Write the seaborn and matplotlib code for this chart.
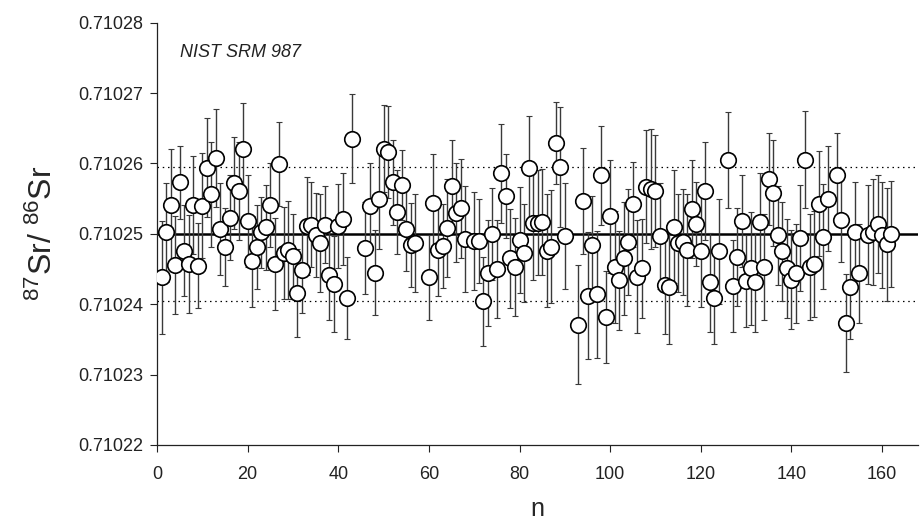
import matplotlib
matplotlib.use('Agg')
import matplotlib.pyplot as plt
import seaborn as sns
import numpy as np

# measurement index
n_idx = [
    1, 2, 3, 4, 5, 6, 7, 8, 9, 10, 11, 12, 13, 14, 15, 16, 17, 18, 19, 20,
    21, 22, 23, 24, 25, 26, 27, 28, 29, 30, 31, 32, 33, 34, 35, 36, 37, 38, 39, 40,
    41, 42, 43, 46, 47, 48, 49, 50, 51, 52, 53, 54, 55, 56, 57, 60,
    61, 62, 63, 64, 65, 66, 67, 68, 70, 71, 72, 73, 74, 75, 76, 77, 78, 79, 80,
    81, 82, 83, 84, 85, 86, 87, 88, 89, 90, 93, 94, 95, 96, 97, 98, 99, 100,
    101, 102, 103, 104, 105, 106, 107, 108, 109, 110, 111, 112, 113, 114, 115, 116, 117, 118, 119, 120,
    121, 122, 123, 124, 126, 127, 128, 129, 130, 131, 132, 133, 134, 135, 136, 137, 138, 139, 140,
    141, 142, 143, 144, 145, 146, 147, 148, 150, 151, 152, 153, 154, 155, 157, 158, 159, 160,
    161, 162,
]

# 87Sr/86Sr measured
sr_ratio = [
    0.7102438, 0.7102502, 0.7102541, 0.7102456, 0.7102573, 0.7102476, 0.7102457, 0.7102541, 0.7102455, 0.7102540,
    0.7102594, 0.7102556, 0.7102608, 0.7102507, 0.7102481, 0.7102523, 0.7102572, 0.7102561, 0.7102621, 0.7102518,
    0.7102461, 0.7102481, 0.7102502, 0.7102509, 0.7102541, 0.7102457, 0.7102599, 0.7102473, 0.7102477, 0.7102468,
    0.7102416, 0.7102448, 0.7102511, 0.7102513, 0.7102498, 0.7102487, 0.7102513, 0.7102442, 0.7102429, 0.7102511,
    0.7102521, 0.7102409, 0.7102635, 0.7102480, 0.7102540, 0.7102445, 0.7102549, 0.7102621, 0.7102616, 0.7102573,
    0.7102531, 0.7102569, 0.7102507, 0.7102484, 0.7102487, 0.7102438,
    0.7102544, 0.7102477, 0.7102483, 0.7102508, 0.7102568, 0.7102530, 0.7102536, 0.7102493, 0.7102490, 0.7102490,
    0.7102404, 0.7102444, 0.7102500, 0.7102450, 0.7102586, 0.7102554, 0.7102465, 0.7102453, 0.7102491,
    0.7102473, 0.7102593, 0.7102515, 0.7102516, 0.7102517, 0.7102476, 0.7102482, 0.7102629, 0.7102595, 0.7102497,
    0.7102371, 0.7102547, 0.7102412, 0.7102484, 0.7102414, 0.7102583, 0.7102382, 0.7102525,
    0.7102453, 0.7102434, 0.7102465, 0.7102488, 0.7102542, 0.7102439, 0.7102451, 0.7102567, 0.7102564, 0.7102561,
    0.7102497, 0.7102427, 0.7102424, 0.7102510, 0.7102487, 0.7102488, 0.7102477, 0.7102535, 0.7102514, 0.7102476,
    0.7102561, 0.7102431, 0.7102409, 0.7102475, 0.7102605, 0.7102426, 0.7102467, 0.7102518, 0.7102433, 0.7102451,
    0.7102431, 0.7102517, 0.7102453, 0.7102578, 0.7102558, 0.7102498, 0.7102475, 0.7102451, 0.7102435,
    0.7102444, 0.7102494, 0.7102605, 0.7102453, 0.7102457, 0.7102543, 0.7102496, 0.7102550, 0.7102583, 0.7102520,
    0.7102373, 0.7102425, 0.7102503, 0.7102444, 0.7102499, 0.7102503, 0.7102514, 0.7102498,
    0.7102485, 0.7102500,
]

# 2 s.e. of each run
sr_err = [
    8.0e-6, 7.0e-6, 8.0e-6, 7.0e-6, 5.2e-6, 6.5e-6, 7.0e-6, 7.0e-6, 6.0e-6, 7.5e-6,
    7.0e-6, 7.5e-6, 7.0e-6, 6.5e-6, 5.5e-6, 6.0e-6, 6.5e-6, 7.0e-6, 6.5e-6, 6.5e-6,
    6.5e-6, 6.0e-6, 5.0e-6, 6.0e-6, 6.0e-6, 6.5e-6, 6.0e-6, 6.5e-6, 7.0e-6, 6.0e-6,
    6.2e-6, 6.0e-6, 7.0e-6, 6.0e-6, 6.0e-6, 7.0e-6, 5.5e-6, 6.5e-6, 6.8e-6, 6.0e-6,
    6.5e-6, 5.8e-6, 6.3e-6, 6.5e-6, 6.0e-6, 6.0e-6, 7.0e-6, 6.2e-6, 6.5e-6, 6.0e-6,
    6.0e-6, 5.0e-6, 6.0e-6, 6.0e-6, 7.0e-6, 6.0e-6,
    7.0e-6, 6.5e-6, 6.0e-6, 7.0e-6, 6.5e-6, 7.0e-6, 7.0e-6, 7.5e-6, 7.0e-6, 6.0e-6,
    6.3e-6, 7.5e-6, 6.5e-6, 7.0e-6, 7.0e-6, 6.0e-6, 7.0e-6, 7.0e-6, 7.5e-6,
    7.0e-6, 7.5e-6, 8.0e-6, 7.5e-6, 7.5e-6, 8.0e-6, 8.0e-6, 5.8e-6, 8.5e-6, 7.5e-6,
    8.5e-6, 7.5e-6, 9.0e-6, 7.0e-6, 9.0e-6, 7.0e-6, 6.5e-6, 8.0e-6,
    8.0e-6, 7.0e-6, 8.0e-6, 7.5e-6, 6.0e-6, 8.0e-6, 7.0e-6, 8.0e-6, 8.5e-6, 8.0e-6,
    7.5e-6, 7.0e-6, 8.0e-6, 8.0e-6, 7.0e-6, 7.5e-6, 8.0e-6, 7.0e-6, 6.0e-6, 8.0e-6,
    7.0e-6, 7.0e-6, 6.5e-6, 7.5e-6, 6.8e-6, 6.5e-6, 7.0e-6, 6.5e-6, 6.5e-6, 8.0e-6,
    7.0e-6, 7.0e-6, 7.5e-6, 6.5e-6, 7.5e-6, 7.0e-6, 7.0e-6, 7.0e-6, 7.0e-6,
    7.0e-6, 7.5e-6, 6.9e-6, 7.5e-6, 7.5e-6, 7.5e-6, 7.5e-6, 7.5e-6, 6.0e-6, 6.0e-6,
    7.0e-6, 7.5e-6, 7.0e-6, 7.0e-6, 7.0e-6, 7.5e-6, 7.0e-6, 7.5e-6,
    8.0e-6, 7.5e-6,
]

MEAN = 0.7102500
UPPER_2SD = 0.7102595
LOWER_2SD = 0.7102405

y_ticks = [0.71022, 0.71023, 0.71024, 0.71025, 0.71026, 0.71027, 0.71028]
x_ticks = [0, 20, 40, 60, 80, 100, 120, 140, 160]

sns.set_style('ticks')
plt.rcParams['font.family'] = ['Liberation Sans', 'DejaVu Sans']
plt.rcParams['mathtext.default'] = 'regular'

fig, ax = plt.subplots(figsize=(9.22, 5.27), dpi=100)
fig.subplots_adjust(left=0.1703, right=0.996, bottom=0.1556, top=0.957)

ax.axhline(MEAN, color='black', linewidth=1.8, zorder=1)
ax.axhline(UPPER_2SD, color='black', linewidth=0.9, linestyle=(0, (1.2, 3)), zorder=1)
ax.axhline(LOWER_2SD, color='black', linewidth=0.9, linestyle=(0, (1.2, 3)), zorder=1)

ax.errorbar(n_idx, sr_ratio, yerr=sr_err, fmt='none', ecolor='#3a3a3a',
            elinewidth=1.0, capsize=2.5, capthick=0.8, zorder=2)
sns.scatterplot(x=n_idx, y=sr_ratio, ax=ax, marker='o', s=125, color='white',
                edgecolor='black', linewidth=1.2, zorder=3, legend=False)

ax.set_xlim(0, 168)
ax.set_ylim(0.71022, 0.71028)
ax.set_xticks(x_ticks)
ax.set_yticks(y_ticks)
ax.set_yticklabels([f'{v:.5f}' for v in y_ticks])
ax.tick_params(axis='both', direction='out', length=5, width=0.8,
               labelsize=13, colors='#222222')
ax.tick_params(axis='x', pad=10)
ax.tick_params(axis='y', pad=5)
sns.despine(ax=ax)
for side in ['left', 'bottom']:
    ax.spines[side].set_linewidth(0.9)
    ax.spines[side].set_color('#222222')

ax.set_xlabel('n', fontsize=18, labelpad=10)
ax.set_ylabel(r'$^{87}$Sr/ $^{86}$Sr', fontsize=23, labelpad=14)
ax.text(0.03, 0.93, 'NIST SRM 987', transform=ax.transAxes, fontsize=13,
        style='italic', ha='left', va='center', color='#222222')

plt.savefig('out.png', dpi=100)
plt.close()
